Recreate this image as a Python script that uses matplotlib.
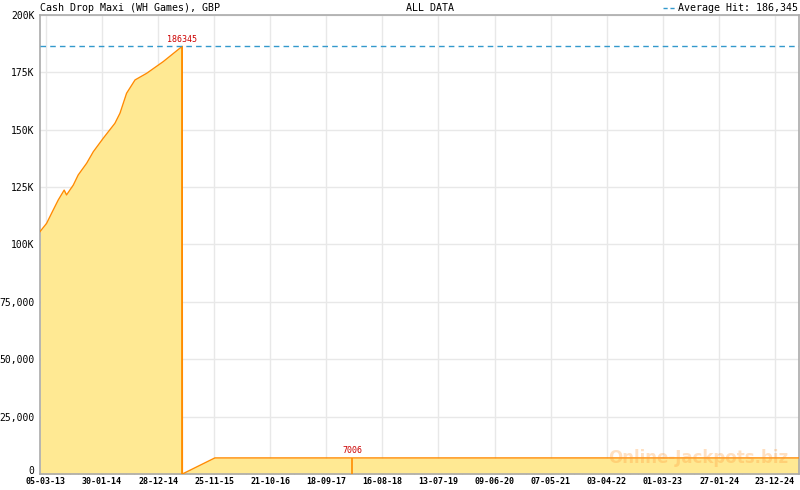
import numpy as np
import pandas as pd
import matplotlib
matplotlib.use("Agg")
import matplotlib.pyplot as plt
import matplotlib.dates as mdates
from matplotlib.lines import Line2D

# ---- data ----
dates = ["2013-01-29", "2013-03-09", "2013-04-17", "2013-05-17", "2013-06-21",
         "2013-07-05", "2013-08-14", "2013-09-12", "2013-11-01", "2013-12-10",
         "2014-02-07", "2014-04-17", "2014-05-17", "2014-06-25", "2014-08-14",
         "2014-10-22", "2015-01-28", "2015-05-20", "2015-05-21", "2015-11-29",
         "2025-05-14"]
values = [105600, 109200, 115000, 119400, 123700,
          121600, 125900, 130300, 135400, 140400,
          146300, 152800, 157200, 165900, 171700,
          174600, 179700, 186345, 0, 7006,
          7006]

hit_dates = ["2015-05-20", "2018-02-18"]
hit_values = [186345, 7006]
hit_labels = ["186345", "7006"]

average_hit = 186345

ytick_vals = [0, 25000, 50000, 75000, 100000, 125000, 150000, 175000, 200000]
ytick_labels = ["0", "25,000", "50,000", "75,000", "100K", "125K", "150K", "175K", "200K"]

xtick_labels = ["05-03-13", "30-01-14", "28-12-14", "25-11-15", "21-10-16", "18-09-17",
                "16-08-18", "13-07-19", "09-06-20", "07-05-21", "03-04-22", "01-03-23",
                "27-01-24", "23-12-24"]

title_left = "Cash Drop Maxi (WH Games), GBP"
title_mid = "ALL DATA"
legend_text = "Average Hit: 186,345"
watermark = "Online-Jackpots.biz"

# ---- plotting ----
mono = "DejaVu Sans Mono"
x = pd.to_datetime(dates)
hx = pd.to_datetime(hit_dates)
xt = pd.to_datetime(xtick_labels, format="%d-%m-%y")

fig = plt.figure(figsize=(8, 4.9), dpi=100)
ax = fig.add_axes([40 / 800, 16 / 490, 759 / 800, 459 / 490])

ax.fill_between(x, values, 0, color="#ffe993", linewidth=0, zorder=2)
ax.plot(x, values, color="#ff8c00", linewidth=1, zorder=3)
ax.vlines(hx, 0, hit_values, color="#ff8c00", linewidth=1.2, zorder=3)
for d, v, lab in zip(hx, hit_values, hit_labels):
    ax.text(d, v + 1200, lab, color="#cc0000", fontsize=6, family=mono,
            ha="center", va="bottom", zorder=4)

ax.axhline(average_hit, color="#3399cc", linestyle=(0, (4, 3)), linewidth=1, zorder=4)

ax.set_xlim(x[0], x[-1])
ax.set_ylim(0, 200000)

ax.set_yticks(ytick_vals)
ax.set_yticklabels(ytick_labels, family=mono, fontsize=7)
# the "0" label sits just above the axis line, clear of the date labels
ax.yaxis.get_major_ticks()[0].label1.set_verticalalignment("baseline")
ax.set_xticks(xt)
ax.set_xticklabels(xtick_labels, family=mono, fontsize=6, fontweight="bold")
step = (mdates.date2num(xt[1]) - mdates.date2num(xt[0])) / 7
minors = np.arange(mdates.date2num(xt[0]), mdates.date2num(x[-1]), step)
ax.set_xticks(minors, minor=True)

ax.tick_params(axis="x", which="major", direction="in", length=5, color="#aaaaaa", pad=2)
ax.tick_params(axis="x", which="minor", direction="in", length=3, color="#aaaaaa")
ax.tick_params(axis="y", length=0, pad=4)

ax.grid(True, color="#e8e8e8", linewidth=1)
ax.set_axisbelow(True)
for s in ax.spines.values():
    s.set_color("#aaaaaa")
    s.set_linewidth(1.2)

fig.text(40 / 800, 1 - 8 / 490, title_left, family=mono, fontsize=7.2, va="center", ha="left")
fig.text(430 / 800, 1 - 8 / 490, title_mid, family=mono, fontsize=7.2, va="center", ha="center")
fig.text(798 / 800, 1 - 8 / 490, legend_text, family=mono, fontsize=7.2, va="center", ha="right")
fig.add_artist(Line2D([663 / 800, 677 / 800], [1 - 8 / 490, 1 - 8 / 490], color="#3399cc",
                      linestyle=(0, (3, 2)), linewidth=1, transform=fig.transFigure))

ax.text(0.867, 0.035, watermark, transform=ax.transAxes, fontsize=12, fontweight="bold",
        color="#ff9933", alpha=0.3, ha="center", va="center", zorder=5)

fig.savefig("out.png", dpi=100)
